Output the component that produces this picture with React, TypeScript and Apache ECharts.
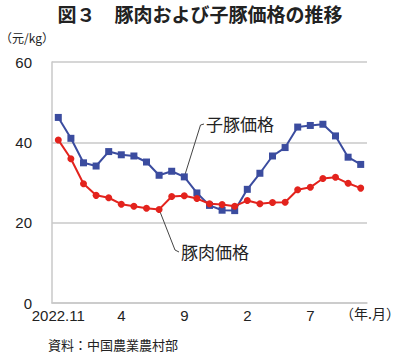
import React, { useEffect, useRef } from "react";
import * as echarts from "echarts";

const months: string[] = [
  "2022.11", "2022.12", "2023.1", "2023.2", "2023.3", "2023.4", "2023.5", "2023.6",
  "2023.7", "2023.8", "2023.9", "2023.10", "2023.11", "2023.12", "2024.1", "2024.2",
  "2024.3", "2024.4", "2024.5", "2024.6", "2024.7", "2024.8", "2024.9", "2024.10", "2024.11",
];

const pigletPrice: number[] = [
  46.2, 41.0, 34.9, 34.1, 37.7, 36.9, 36.6, 35.1, 31.8, 32.8, 31.4, 27.4, 24.3,
  23.1, 23.0, 28.3, 32.3, 36.6, 38.7, 43.8, 44.2, 44.5, 41.6, 36.3, 34.5,
];

const porkPrice: number[] = [
  40.6, 35.9, 29.7, 26.8, 26.2, 24.6, 24.1, 23.6, 23.3, 26.5, 26.7, 26.0, 24.7,
  24.5, 24.1, 25.5, 24.7, 25.0, 25.1, 28.2, 28.8, 31.0, 31.3, 29.8, 28.6,
];

const yTicks = { min: 0, max: 60, interval: 20 };

const FONT = "'Liberation Sans', 'Noto Sans CJK JP', sans-serif";
const CJK = "'Noto Sans CJK JP', sans-serif";
const BLUE = "#3b4c9f";
const RED = "#e3231d";
const GRID = "#c9c9c9";

export default function App() {
  const ref = useRef<HTMLDivElement>(null);

  useEffect(() => {
    if (!ref.current) return;
    const chart = echarts.init(ref.current, null, { renderer: "svg" });
    chart.setOption({
      animation: false,
      backgroundColor: "#ffffff",
      textStyle: { fontFamily: FONT },
      title: {
        text: "図３　豚肉および子豚価格の推移",
        left: "center",
        top: -1,
        textStyle: { fontFamily: CJK, fontSize: 19, fontWeight: 600, color: "#222" },
      },
      grid: { left: 52, right: 33, top: 62, bottom: 53 },
      xAxis: {
        type: "category",
        data: months,
        boundaryGap: true,
        axisTick: { show: false },
        axisLine: { lineStyle: { color: GRID, width: 1.5 } },
        axisLabel: {
          interval: 4,
          margin: 5,
          fontSize: 15,
          color: "#222",
          fontFamily: FONT,
          formatter: (v: string, i: number) => (i === 0 ? v : v.split(".")[1]),
        },
      },
      yAxis: {
        type: "value",
        min: yTicks.min,
        max: yTicks.max,
        interval: yTicks.interval,
        axisLine: { show: true, lineStyle: { color: GRID, width: 1.5 } },
        axisTick: { show: false },
        splitLine: { lineStyle: { color: GRID, width: 1.5 } },
        axisLabel: { fontSize: 15, color: "#222", margin: 20, fontFamily: FONT },
      },
      series: [
        {
          name: "子豚価格",
          type: "line",
          data: pigletPrice,
          symbol: "rect",
          symbolSize: 7,
          lineStyle: { color: BLUE, width: 2 },
          itemStyle: { color: BLUE },
          z: 3,
        },
        {
          name: "豚肉価格",
          type: "line",
          data: porkPrice,
          symbol: "circle",
          symbolSize: 7,
          lineStyle: { color: RED, width: 2 },
          itemStyle: { color: RED },
          z: 4,
        },
      ],
    });

    const pBlue = chart.convertToPixel({ seriesIndex: 0 }, [10, pigletPrice[10]]) as number[];
    const pRed = chart.convertToPixel({ seriesIndex: 1 }, [8, porkPrice[8]]) as number[];

    chart.setOption({
      graphic: [
        {
          type: "text",
          left: 0,
          top: 31,
          style: { text: "（元/kg）", fill: "#222", font: `12px ${CJK}` },
        },
        {
          type: "text",
          right: 0,
          top: 306,
          style: { text: "（年.月）", fill: "#222", font: `14px ${CJK}` },
        },
        {
          type: "text",
          left: 48,
          top: 338,
          style: { text: "資料：中国農業農村部", fill: "#222", font: `13px ${CJK}` },
        },
        {
          type: "polyline",
          shape: { points: [[pBlue[0], pBlue[1]], [200.5, 125], [204, 124]] },
          style: { stroke: "#444", lineWidth: 1, fill: "none" },
          z: 1,
        },
        {
          type: "text",
          left: 206,
          top: 115,
          style: { text: "子豚価格", fill: "#222", font: `17px ${CJK}` },
        },
        {
          type: "polyline",
          shape: { points: [[pRed[0], pRed[1]], [175, 250], [179, 252]] },
          style: { stroke: "#444", lineWidth: 1, fill: "none" },
          z: 1,
        },
        {
          type: "text",
          left: 181,
          top: 243,
          style: { text: "豚肉価格", fill: "#222", font: `17px ${CJK}` },
        },
      ],
    });

    return () => chart.dispose();
  }, []);

  return (
    <div
      ref={ref}
      style={{ position: "fixed", left: 0, top: 0, width: 400, height: 356 }}
    />
  );
}
